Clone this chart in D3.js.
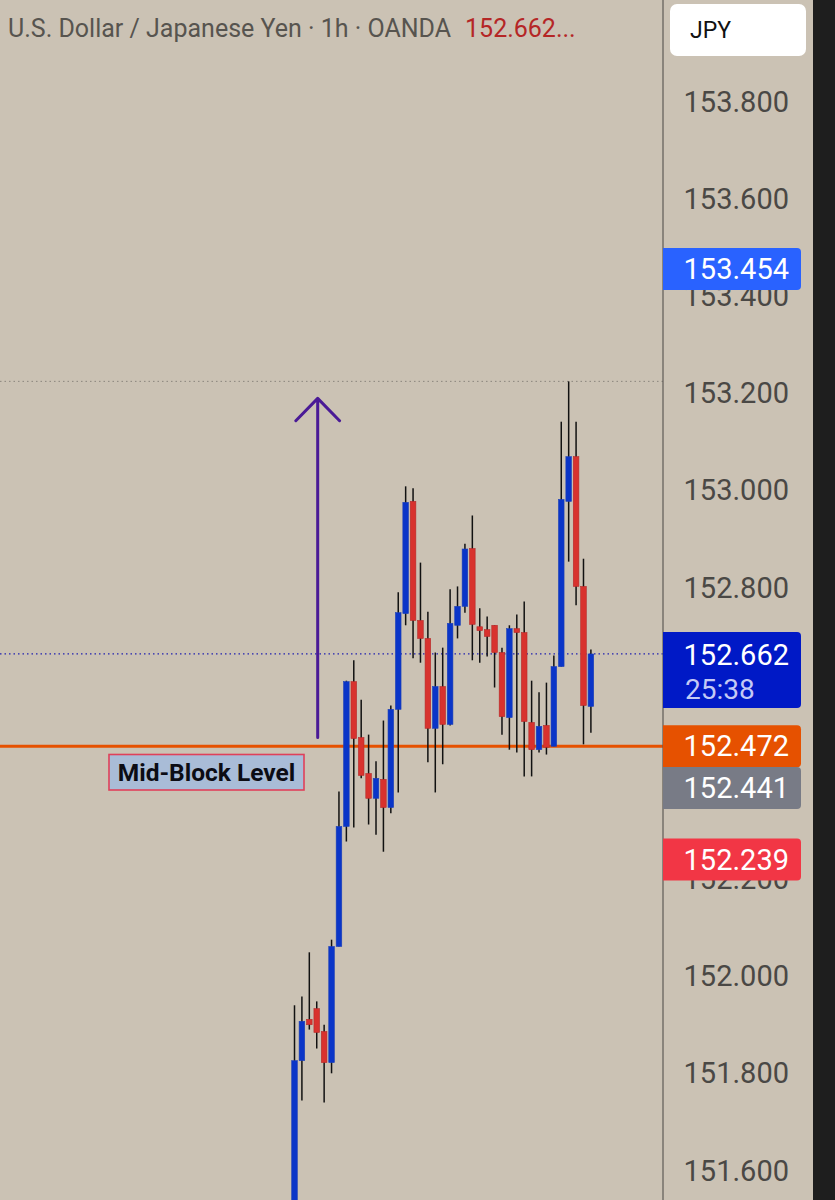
<!DOCTYPE html>
<html>
<head>
<meta charset="utf-8">
<script src="https://cdn.jsdelivr.net/npm/d3@7.9.0/dist/d3.min.js"></script>
<style>
  html, body { margin: 0; padding: 0; background: #cbc2b4; }
  svg { display: block; font-family: Roboto, "Noto Sans", sans-serif; }
</style>
</head>
<body>
<svg id="chart" width="835" height="1200"></svg>
<script>
// USD/JPY 1h candles (oldest first)
const opens  = [151.50, 151.825, 151.910, 151.932, 151.885, 151.821, 152.060, 152.307, 152.605, 152.490,
                152.416, 152.365, 152.404, 152.346, 152.548, 152.745, 152.976, 152.731, 152.694, 152.509,
                152.595, 152.517, 152.721, 152.760, 152.879, 152.718, 152.712, 152.721, 152.665, 152.531,
                152.714, 152.706, 152.521, 152.465, 152.515, 152.472, 152.636, 152.976, 153.068, 152.801, 152.554];
const highs  = [151.939, 151.957, 152.048, 151.947, 151.899, 152.074, 152.379, 152.607, 152.649, 152.568,
                152.496, 152.441, 152.525, 152.556, 152.789, 153.007, 153.003, 152.850, 152.749, 152.665,
                152.675, 152.795, 152.801, 152.889, 152.947, 152.756, 152.739, 152.721, 152.675, 152.721,
                152.743, 152.770, 152.607, 152.583, 152.603, 152.659, 153.140, 153.223, 153.140, 152.858, 152.671];
const lows   = [151.45, 151.743, 151.889, 151.850, 151.739, 151.799, 152.060, 152.276, 152.305, 152.406,
                152.311, 152.290, 152.255, 152.334, 152.377, 152.721, 152.653, 152.644, 152.439, 152.377,
                152.435, 152.515, 152.694, 152.747, 152.649, 152.644, 152.657, 152.593, 152.496, 152.465,
                152.459, 152.410, 152.410, 152.459, 152.455, 152.472, 152.636, 152.852, 152.762, 152.476, 152.500];
const closes = [151.825, 151.906, 151.899, 151.883, 151.821, 152.060, 152.307, 152.605, 152.488, 152.412,
                152.365, 152.406, 152.346, 152.548, 152.747, 152.974, 152.731, 152.694, 152.509, 152.595,
                152.517, 152.725, 152.760, 152.878, 152.723, 152.710, 152.698, 152.665, 152.533, 152.714,
                152.706, 152.523, 152.465, 152.513, 152.470, 152.636, 152.980, 153.068, 152.801, 152.556, 152.662];

// visible axis ticks (152.600 and 152.400 sit fully under price tags in the picture)
const yTicks = [153.8, 153.6, 153.4, 153.2, 153.0, 152.8, 152.2, 152.0, 151.8, 151.6];

const lastPrice = 152.662;
const countdown = '25:38';
const midBlock = 152.472;      // orange horizontal level
const dayHigh = 153.223;       // grey dotted high line
// price tags on the axis: value, colour, shown position (some are nudged apart)
const tags = [
  { value: 153.454, color: '#2962ff', at: 153.454 },
  { value: 152.472, color: '#e65100', at: 152.472 },
  { value: 152.441, color: '#787b86', at: 152.386 },
  { value: 152.239, color: '#f23645', at: 152.239 }
];
// arrow drawn on the chart (bar index / price)
const arrow = { i: 3.13, from: 152.49, to: 153.188, armI: 2.95, armP: 0.046 };

const candles = opens.map((o, i) => ({ i, o, h: highs[i], l: lows[i], c: closes[i] }));

const svg = d3.select('#chart');
const W = 835, H = 1200, axisX = 663;

const x = d3.scaleLinear().domain([0, candles.length - 1]).range([294.5, 590.9]);
const y = d3.scaleLinear().domain([153.8, 151.6]).range([101, 1170]);
const fmt = d3.format('.3f');

svg.append('rect').attr('width', W).attr('height', H).attr('fill', '#cbc2b4');
svg.append('rect').attr('x', 813).attr('width', W - 813).attr('height', H).attr('fill', '#1e1e1e');

svg.append('clipPath').attr('id', 'plot')
  .append('rect').attr('width', axisX).attr('height', H);

const plot = svg.append('g').attr('clip-path', 'url(#plot)');

// horizontal reference lines
plot.append('line')
  .attr('x1', 0).attr('x2', axisX).attr('y1', y(dayHigh)).attr('y2', y(dayHigh))
  .attr('stroke', '#8a857c').attr('stroke-width', 1).attr('stroke-dasharray', '1.5,3');
plot.append('line')
  .attr('x1', 0).attr('x2', axisX).attr('y1', y(lastPrice)).attr('y2', y(lastPrice))
  .attr('stroke', '#2020b0').attr('stroke-width', 1.2).attr('stroke-dasharray', '1.5,3');
plot.append('line')
  .attr('x1', 0).attr('x2', axisX).attr('y1', y(midBlock)).attr('y2', y(midBlock))
  .attr('stroke', '#e65100').attr('stroke-width', 3);

// arrow
const arrowPath = d3.path();
arrowPath.moveTo(x(arrow.i), y(arrow.from));
arrowPath.lineTo(x(arrow.i), y(arrow.to));
arrowPath.moveTo(x(arrow.i - arrow.armI), y(arrow.to - arrow.armP));
arrowPath.lineTo(x(arrow.i), y(arrow.to));
arrowPath.lineTo(x(arrow.i + arrow.armI), y(arrow.to - arrow.armP));
plot.append('path').attr('d', arrowPath.toString())
  .attr('fill', 'none').attr('stroke', '#4a1a96').attr('stroke-width', 3)
  .attr('stroke-linecap', 'round').attr('stroke-linejoin', 'round');

// candles
const bw = 5.6;
const g = plot.selectAll('g.candle').data(candles).join('g').attr('class', 'candle');
g.append('line')
  .attr('x1', d => x(d.i)).attr('x2', d => x(d.i))
  .attr('y1', d => y(d.h)).attr('y2', d => y(d.l))
  .attr('stroke', '#111').attr('stroke-width', 1.5);
g.append('rect')
  .attr('x', d => x(d.i) - bw / 2).attr('width', bw)
  .attr('y', d => y(Math.max(d.o, d.c)))
  .attr('height', d => Math.max(1.5, Math.abs(y(d.o) - y(d.c))))
  .attr('fill', d => d.c >= d.o ? '#0a35c8' : '#d8322e')
  .attr('stroke', d => d.c >= d.o ? '#1c3fb8' : '#b52a2a')
  .attr('stroke-width', 0.6);

// Mid-Block Level label
const lbl = svg.append('g');
lbl.append('rect').attr('x', 109).attr('y', 754.5).attr('width', 195).attr('height', 35.5)
  .attr('fill', '#a9bcd7').attr('stroke', '#e0405a').attr('stroke-width', 1.6);
lbl.append('text').attr('x', 206.5).attr('y', 781).attr('text-anchor', 'middle')
  .attr('font-size', 24.5).attr('font-weight', 'bold').attr('fill', '#0c0c14')
  .text('Mid-Block Level');

// right price axis
svg.append('line').attr('x1', axisX).attr('x2', axisX).attr('y1', 0).attr('y2', H)
  .attr('stroke', '#5e5a55').attr('stroke-width', 1.2);

const yAxis = d3.axisLeft(y).tickValues(yTicks).tickSize(0).tickPadding(0).tickFormat(fmt);
const ax = svg.append('g').attr('transform', 'translate(789,0)').call(yAxis);
ax.select('.domain').remove();
ax.selectAll('text').attr('font-size', 29).attr('fill', '#4a4845')
  .attr('font-family', 'Roboto, sans-serif').attr('dy', '0.35em');

// price tags
const tagH = 42;
function tagShape(yc, h) {
  const p = d3.path(), r = 4, x0 = axisX, x1 = 801, y0 = yc - h / 2, y1 = yc + h / 2;
  p.moveTo(x0, y0); p.lineTo(x1 - r, y0); p.quadraticCurveTo(x1, y0, x1, y0 + r);
  p.lineTo(x1, y1 - r); p.quadraticCurveTo(x1, y1, x1 - r, y1); p.lineTo(x0, y1); p.closePath();
  return p.toString();
}
tags.forEach(t => {
  svg.append('path').attr('d', tagShape(y(t.at), tagH)).attr('fill', t.color);
  svg.append('text').attr('x', 789).attr('y', y(t.at)).attr('dy', '0.35em')
    .attr('text-anchor', 'end').attr('font-size', 29).attr('fill', '#fff').text(fmt(t.value));
});
// last price tag with countdown
const lastTop = y(lastPrice) - 22;
svg.append('path').attr('d', tagShape(lastTop + 38, 76)).attr('fill', '#0019c6');
svg.append('text').attr('x', 789).attr('y', y(lastPrice) + 1).attr('dy', '0.35em')
  .attr('text-anchor', 'end').attr('font-size', 29).attr('fill', '#fff').text(fmt(lastPrice));
svg.append('text').attr('x', 685).attr('y', y(lastPrice) + 35).attr('dy', '0.35em')
  .attr('font-size', 28).attr('fill', '#c3c9f5').text(countdown);

// header
const title = svg.append('text').attr('x', 8).attr('y', 37).attr('font-size', 25);
title.append('tspan').attr('fill', '#57544f').text('U.S. Dollar / Japanese Yen · 1h · OANDA');
title.append('tspan').attr('fill', '#b52626').attr('dx', 14).text(fmt(lastPrice) + '...');

svg.append('rect').attr('x', 670).attr('y', 4).attr('width', 136).attr('height', 52).attr('rx', 7)
  .attr('fill', '#ffffff');
svg.append('text').attr('x', 690).attr('y', 30).attr('dy', '0.35em').attr('font-size', 23)
  .attr('fill', '#111').text('JPY');
</script>
</body>
</html>
